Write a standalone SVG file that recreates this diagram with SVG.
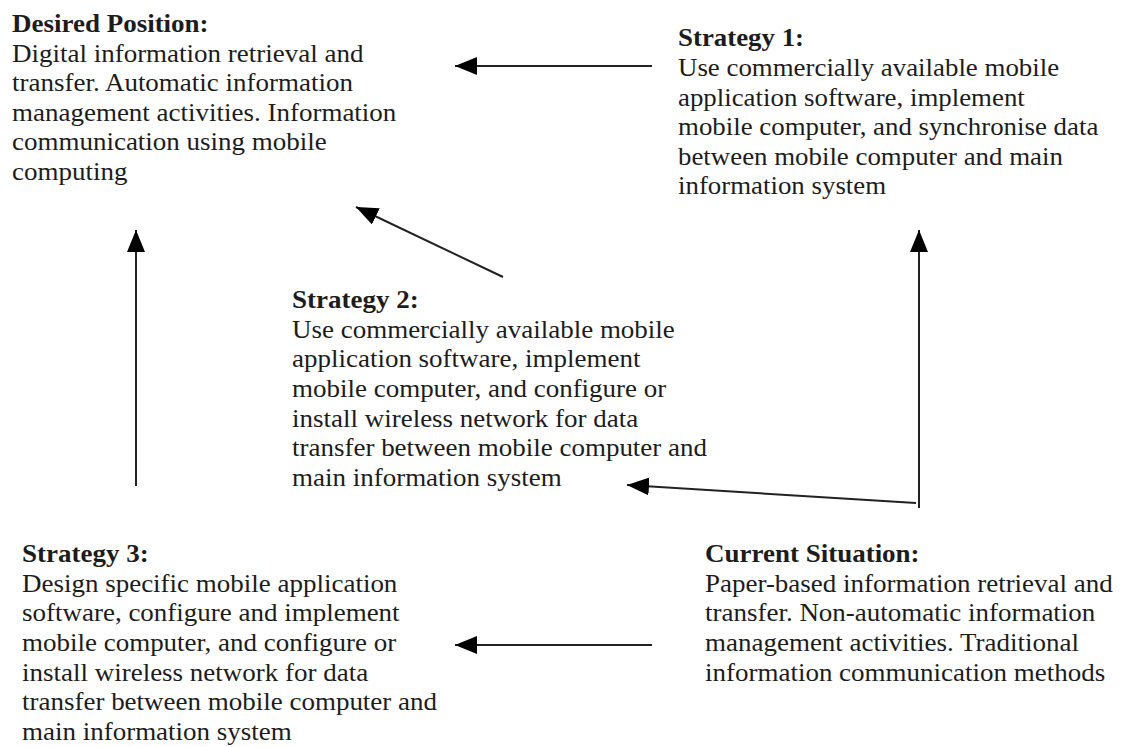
<svg xmlns="http://www.w3.org/2000/svg" width="1126" height="747" viewBox="0 0 1126 747">
  <style>
    text { font-family: "Liberation Serif", "Times New Roman", serif; font-size: 25px; fill: #1c1c1c; }
    .head { font-weight: bold; }
    .conn { stroke: #222; stroke-width: 2; fill: none; marker-end: url(#arrow); }
  </style>
  <defs>
    <!-- solid triangular arrowhead, tip at the line end -->
    <marker id="arrow" viewBox="0 0 22 18" refX="22" refY="9" markerWidth="22" markerHeight="18" markerUnits="userSpaceOnUse" orient="auto">
      <path d="M0,0 L22,9 L0,18 Z" fill="#000"/>
    </marker>
  </defs>
  <rect width="1126" height="747" fill="#fff"/>

  <g id="desired-position" transform="translate(12 0) scale(1.08 1)">
    <text x="0" y="32"><tspan class="head">Desired Position:</tspan>
      <tspan x="0" y="62">Digital information retrieval and</tspan>
      <tspan x="0" y="91.5">transfer. Automatic information</tspan>
      <tspan x="0" y="121">management activities. Information</tspan>
      <tspan x="0" y="150.5">communication using mobile</tspan>
      <tspan x="0" y="180">computing</tspan>
    </text>
  </g>

  <g id="strategy-1" transform="translate(678 0) scale(1.075 1)">
    <text x="0" y="46"><tspan class="head">Strategy 1:</tspan>
      <tspan x="0" y="76.5">Use commercially available mobile</tspan>
      <tspan x="0" y="106">application software, implement</tspan>
      <tspan x="0" y="135.5">mobile computer, and synchronise data</tspan>
      <tspan x="0" y="165">between mobile computer and main</tspan>
      <tspan x="0" y="194.5">information system</tspan>
    </text>
  </g>

  <g id="strategy-2" transform="translate(292 0) scale(1.08 1)">
    <text x="0" y="308"><tspan class="head">Strategy 2:</tspan>
      <tspan x="0" y="338">Use commercially available mobile</tspan>
      <tspan x="0" y="367.5">application software, implement</tspan>
      <tspan x="0" y="397">mobile computer, and configure or</tspan>
      <tspan x="0" y="427">install wireless network for data</tspan>
      <tspan x="0" y="456.5">transfer between mobile computer and</tspan>
      <tspan x="0" y="486">main information system</tspan>
    </text>
  </g>

  <g id="strategy-3" transform="translate(22 0) scale(1.08 1)">
    <text x="0" y="562"><tspan class="head">Strategy 3:</tspan>
      <tspan x="0" y="592">Design specific mobile application</tspan>
      <tspan x="0" y="621.5">software, configure and implement</tspan>
      <tspan x="0" y="651">mobile computer, and configure or</tspan>
      <tspan x="0" y="681">install wireless network for data</tspan>
      <tspan x="0" y="710.5">transfer between mobile computer and</tspan>
      <tspan x="0" y="740">main information system</tspan>
    </text>
  </g>

  <g id="current-situation" transform="translate(705 0) scale(1.08 1)">
    <text x="0" y="562"><tspan class="head">Current Situation:</tspan>
      <tspan x="0" y="592">Paper-based information retrieval and</tspan>
      <tspan x="0" y="621.5">transfer. Non-automatic information</tspan>
      <tspan x="0" y="651">management activities. Traditional</tspan>
      <tspan x="0" y="681">information communication methods</tspan>
    </text>
  </g>

  <g id="connectors">
    <line class="conn" x1="652" y1="66" x2="455" y2="66"/>
    <line class="conn" x1="503" y1="277" x2="356" y2="207"/>
    <line class="conn" x1="136" y1="486" x2="136" y2="230"/>
    <line class="conn" x1="919" y1="508" x2="919" y2="230"/>
    <line class="conn" x1="916" y1="503" x2="627" y2="485"/>
    <line class="conn" x1="652" y1="645" x2="455" y2="645"/>
  </g>
</svg>
